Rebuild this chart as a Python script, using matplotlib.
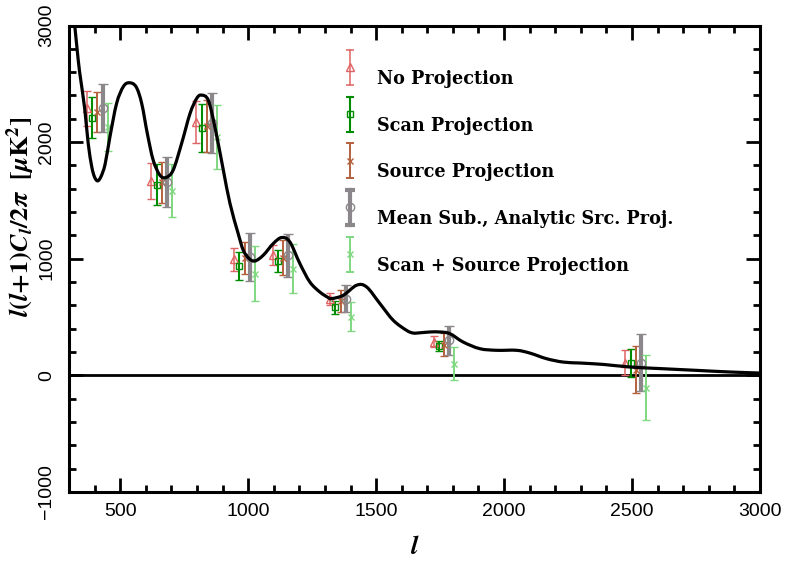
import matplotlib
matplotlib.use("Agg")
import matplotlib.pyplot as plt
import numpy as np
from matplotlib.ticker import MultipleLocator
from matplotlib.path import Path
from matplotlib.patches import PathPatch

# ---------------- data ----------------
theory_l = [318, 336, 346, 362, 375, 389, 400, 412, 425, 441, 460, 486, 512, 535, 562, 584,
            606, 629, 655, 679, 707, 740, 773, 799, 818, 844, 870, 903, 929, 961, 981,
            1004, 1027, 1059, 1098, 1131, 1163, 1202, 1241, 1280, 1313, 1326, 1372, 1424,
            1463, 1515, 1567, 1619, 1645, 1671, 1710, 1749, 1788, 1840, 1905, 1971, 2049,
            2101, 2166, 2231, 2296, 2387, 2491, 2621, 2752, 2882, 3000]
theory_D = [3100, 2704, 2532, 2275, 1989, 1788, 1700, 1668, 1705, 1810, 2046, 2332, 2475, 2509, 2475, 2332,
            2074, 1845, 1717, 1697, 1760, 1989, 2246, 2375, 2403, 2360, 2131, 1760, 1474, 1216, 1073,
            1001, 981, 1030, 1130, 1182, 1144, 959, 801, 715, 667, 658, 687, 773,
            758, 615, 472, 386, 363, 365, 372, 372, 358, 286, 229, 215, 215,
            191, 143, 114, 106, 94, 72, 57, 43, 29, 20]

bin_l = [411, 662, 838, 986, 1137, 1361, 1765, 2514]

series_names = ["No Projection", "Scan Projection", "Source Projection",
                "Mean Sub., Analytic Src. Proj.", "Scan + Source Projection"]
series_offset = [-40, -20, 0, 20, 40]

no_proj_D = [2289, 1668, 2172, 996, 1030, 658, 289, 110]
no_proj_err = [152, 155, 183, 100, 86, 52, 46, 110]
scan_D = [2210, 1635, 2121, 937, 983, 584, 251, 105]
scan_err = [174, 176, 205, 122, 96, 54, 43, 118]
source_D = [2258, 1655, 2139, 1008, 1008, 637, 264, 50]
source_err = [175, 176, 222, 136, 150, 93, 98, 202]
meansub_D = [2293, 1660, 2163, 1014, 1030, 658, 300, 107]
meansub_err = [205, 215, 255, 208, 186, 115, 122, 245]
scansrc_D = [2131, 1585, 2042, 872, 915, 504, 100, -104]
scansrc_err = [206, 226, 276, 235, 208, 126, 143, 282]

values = [no_proj_D, scan_D, source_D, meansub_D, scansrc_D]
errors = [no_proj_err, scan_err, source_err, meansub_err, scansrc_err]

styles = [
    dict(color="#e06464", marker="^", ms=6, lw=1.1, capthick=1.1, cs=3),
    dict(color="#008c00", marker="s", ms=5, lw=1.5, capthick=1.5, cs=3),
    dict(color="#b4603c", marker="x", ms=5, lw=1.4, capthick=1.4, cs=3),
    dict(color="#8c878a", marker="o", ms=6, lw=3.0, capthick=3.0, cs=3.5),
    dict(color="#80d880", marker="x", ms=4, lw=1.4, capthick=1.4, cs=3),
]

plt.rcParams["mathtext.fontset"] = "stix"

# ---------------- figure ----------------
fig = plt.figure(figsize=(7.89, 5.61), dpi=100)
ax = fig.add_axes([69 / 789, 1 - 492 / 561, 691 / 789, 466.5 / 561])

ax.axhline(0, color="black", lw=2, zorder=1)

for vals, errs, off, st in zip(values, errors, series_offset, styles):
    x = np.array(bin_l) + off
    ax.errorbar(x, vals, yerr=errs, fmt=st["marker"], color=st["color"], ms=st["ms"],
                mfc="none", mec=st["color"], mew=1.0, elinewidth=st["lw"],
                capsize=st["cs"], capthick=st["capthick"], zorder=3)

# smooth theory curve (Catmull-Rom through the read points, drawn as Bezier path)
P = np.column_stack([theory_l, theory_D]).astype(float)
Pext = np.vstack([P[0], P, P[-1]])
verts = [P[0]]
codes = [Path.MOVETO]
for i in range(1, len(Pext) - 2):
    p0, p1, p2, p3 = Pext[i - 1], Pext[i], Pext[i + 1], Pext[i + 2]
    c1 = p1 + (p2 - p0) / 6.0
    c2 = p2 - (p3 - p1) / 6.0
    verts += [c1, c2, p2]
    codes += [Path.CURVE4] * 3
ax.add_patch(PathPatch(Path(verts, codes), fill=False, edgecolor="black", lw=2.3, zorder=4))

ax.set_xlim(300, 3000)
ax.set_ylim(-1000, 3000)
ax.xaxis.set_major_locator(MultipleLocator(500))
ax.xaxis.set_minor_locator(MultipleLocator(100))
ax.yaxis.set_major_locator(MultipleLocator(1000))
ax.yaxis.set_minor_locator(MultipleLocator(200))

for s in ax.spines.values():
    s.set_linewidth(2.2)

ax.tick_params(which="both", direction="in", top=True, right=True, width=2)
ax.tick_params(which="major", length=10)
ax.tick_params(which="minor", length=5)
ax.tick_params(axis="x", which="major", pad=8, labelsize=14)
ax.tick_params(axis="y", which="major", pad=10, labelsize=14)
for lab in ax.get_xticklabels() + ax.get_yticklabels():
    lab.set_family("Liberation Sans")
for lab in ax.get_yticklabels():
    lab.set_rotation(90)
    lab.set_va("center")

ax.set_xlabel(r"$\mathbfit{l}$", fontsize=19, labelpad=10)
ax.set_ylabel(r"$\mathbfit{l}\mathbf{(}\mathbfit{l}\mathbf{+1)}\mathbfit{C_l}\mathbf{/2}\mathbfit{\pi}\ \ \mathbf{[}\mathbfit{\mu}\mathbf{K^2]}$",
              fontsize=19)
ax.yaxis.set_label_coords(-0.047, 0.59)

# manual legend
leg_x_bar = 0.4067
leg_x_txt = 0.4457
leg_y_txt = [0.885, 0.785, 0.685, 0.585, 0.485]
for name, st, yt in zip(series_names, styles, leg_y_txt):
    yb = yt + 0.025
    half = 0.0375
    ax.plot([leg_x_bar, leg_x_bar], [yb - half, yb + half], color=st["color"], lw=st["lw"],
            transform=ax.transAxes, zorder=5)
    ax.plot([leg_x_bar, leg_x_bar], [yb - half, yb + half], ls="none", marker="_",
            ms=2 * st["cs"], mew=st["capthick"], color=st["color"], transform=ax.transAxes, zorder=5)
    ax.plot([leg_x_bar], [yb], ls="none", marker=st["marker"], ms=st["ms"], mfc="none",
            mec=st["color"], mew=1.0, transform=ax.transAxes, zorder=5)
    ax.text(leg_x_txt, yt, name, transform=ax.transAxes, va="center", ha="left",
            fontsize=12.7, family="DejaVu Serif", weight="bold", zorder=5)

fig.savefig("out.png", dpi=100)
